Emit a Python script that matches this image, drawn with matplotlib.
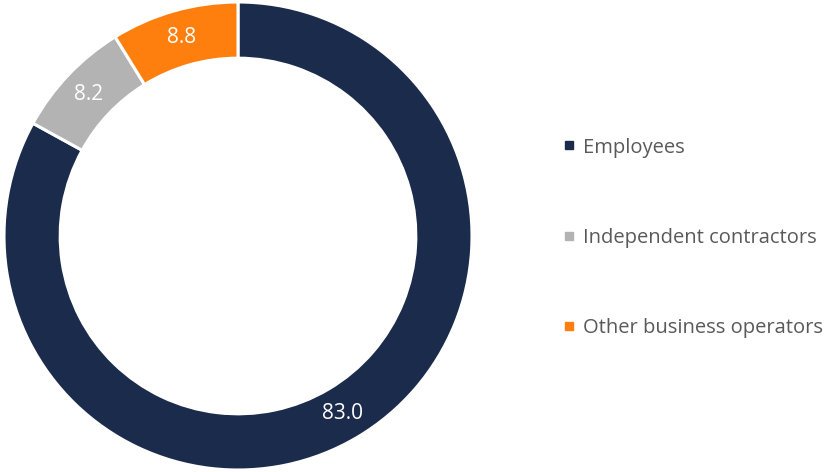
import matplotlib
matplotlib.use('Agg')
from matplotlib import pyplot as plt
from matplotlib.lines import Line2D

plt.rcParams['font.family'] = ['Open Sans', 'DejaVu Sans']

categories = ['Employees', 'Independent contractors', 'Other business operators']
values = [83.0, 8.2, 8.8]
colors = ['#1b2b4b', '#b3b3b3', '#ff7f0e']

W, H = 829, 472
fig = plt.figure(figsize=(W / 100, H / 100), dpi=100)
# donut centre (238, 236) px, outer radius 234 px
cx, cy, r = 238, 236, 234
ax = fig.add_axes([(cx - r) / W, (H - cy - r) / H, 2 * r / W, 2 * r / H])

ring = 0.24
wedges, texts = ax.pie(values, colors=colors, startangle=90, counterclock=False,
                       radius=1.0,
                       wedgeprops=dict(width=ring, edgecolor='white', linewidth=2.2),
                       labels=['%.1f' % v for v in values],
                       labeldistance=1 - ring / 2)
for t in texts:
    t.set_color('white')
    t.set_fontsize(15)
    t.set_ha('center')
    t.set_va('center')
ax.set_xlim(-1, 1)
ax.set_ylim(-1, 1)
ax.set_aspect('equal')

handles = [Line2D([], [], marker='s', linestyle='none', markersize=5.8,
                  markerfacecolor=c, markeredgecolor=c) for c in colors]
fig.legend(handles, categories, loc='center left',
           bbox_to_anchor=(563 / W, (H - 238) / H), frameon=False,
           borderaxespad=0, borderpad=0,
           fontsize=14.5, labelcolor='#595959', handlelength=0.6,
           handletextpad=0.4, labelspacing=3.5)

fig.savefig('out.png', dpi=100)
